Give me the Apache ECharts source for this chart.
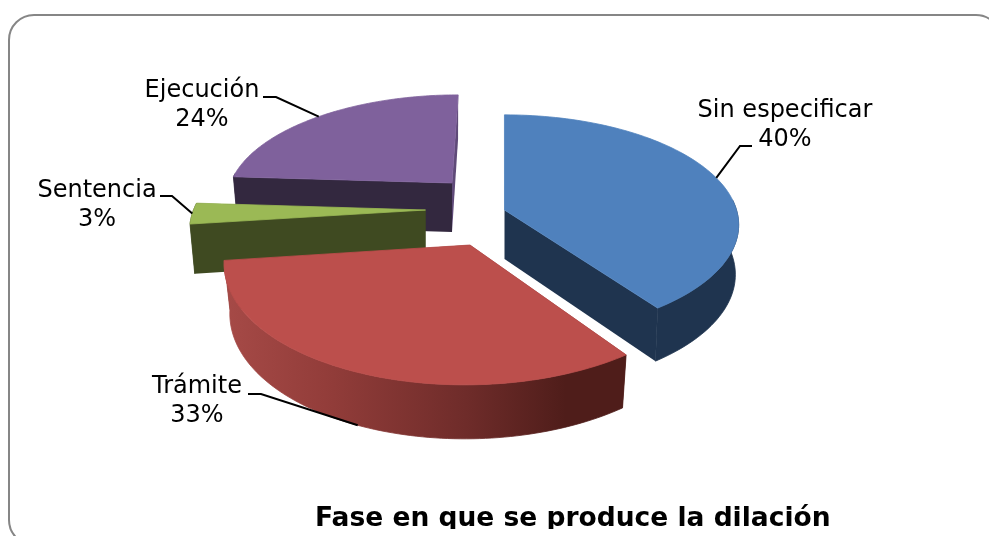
<!DOCTYPE html>
<html>
<head>
<meta charset="utf-8">
<style>html,body{margin:0;padding:0;background:#fff}#c{width:989px;height:536px}</style>
<script src="https://cdn.jsdelivr.net/npm/echarts@6/dist/echarts.min.js"></script>
</head>
<body>
<div id="c"></div>
<script>
// ---- data ----
const categories = ['Sin especificar', 'Trámite', 'Sentencia', 'Ejecución'];
const percents = [40, 33, 3, 24];
const chartTitle = 'Fase en que se produce la dilación';

// ---- style and layout of the exploded 3D pie ----
const R = 232, persp = 0.135, depth = 108, eyeX = 504;
const wallH = 49, wallHFront = 5;
const wallShrink = [0.986, 0.977, 0.98, 0.98];
const explode = [[504.5, 210], [470, 245], [425.5, 210], [452, 183]];
const stretchX = [1, 1.047, 1, 0.954];
const stretchY = [1, 1.12, 1.02, 0.926];
const paintOrder = [4, 3, 2, 1];
const topColor = ['#4f81bd', '#bc4f4c', '#9bb955', '#7f619c'];
const sideColor = ['#1f344f', '#4f1d1a', '#3f4a21', '#33283f'];
const endColor = ['#1f344f', '#4f1d1a', '#3f4a21', '#5f4a78'];
const outerStops = [
  [[0, '#1f344f'], [1, '#1f344f']],
  [[0, '#a64a47'], [0.25, '#933d3a'], [0.6, '#6f2c2a'], [0.85, '#4f1d1a'], [1, '#4f1d1a']],
  [[0, '#3f4a21'], [1, '#3f4a21']],
  [[0, '#33283f'], [1, '#33283f']]
];
const labelAt = [[785, 125], [197, 401.5], [97, 205], [202, 105]];
const knee = [[[752, 146], [740, 146]], [[248, 394], [261, 394]], [[160, 196], [172, 196]], [[263, 97], [276, 97]]];
const leaderOnRim = [false, true, false, false];

const total = percents.reduce((a, b) => a + b, 0);
function project(i, theta) {
  const u = Math.sin(theta), v = -Math.cos(theta);
  const den = 1 - persp * v, a = explode[i];
  const x = a[0] + R * u / den * stretchX[i] + (a[0] - eyeX) * (1 / den - 1);
  const y = a[1] + depth * v / den * stretchY[i];
  return [x, y, v];
}
function rim(i, p) {
  const a = explode[i];
  return [a[0] + (p[0] - a[0]) * wallShrink[i], p[1] + wallH + wallHFront * p[2]];
}

function renderItem(params, api) {
  const i = params.dataIndex, value = api.value(0);
  let before = 0;
  for (let k = 0; k < i; k++) before += percents[k];
  const t0 = before / total * 2 * Math.PI, t1 = (before + value) / total * 2 * Math.PI;
  const a = explode[i], z = paintOrder[i];
  const arc = [];
  const n = 90;
  for (let s = 0; s <= n; s++) arc.push(project(i, t0 + (t1 - t0) * s / n));
  const bottom = arc.map(p => rim(i, p));
  const apexBottom = [a[0], a[1] + wallH];
  const pts = p => [p[0], p[1]];
  const poly = (points, fill, zz, edge) => ({
    type: 'polygon', z2: zz, shape: { points },
    style: edge ? { fill, stroke: fill, lineWidth: 0.8 } : { fill }
  });
  const children = [];
  // radial walls
  children.push(poly([pts(a), pts(arc[n]), bottom[n], apexBottom], endColor[i], z * 10));
  children.push(poly([pts(a), pts(arc[0]), bottom[0], apexBottom], sideColor[i], z * 10 + 1));
  // outer wall: only the part turned toward the viewer
  const facing = arc.map((p, k) => k).filter(k => arc[k][2] >= -0.1);
  if (facing.length > 1) {
    const wall = facing.map(k => pts(arc[k])).concat(facing.slice().reverse().map(k => bottom[k]));
    const xs = wall.map(p => p[0]);
    children.push(poly(wall, {
      type: 'linear', global: true,
      x: Math.min.apply(null, xs), y: 0, x2: Math.max.apply(null, xs), y2: 0,
      colorStops: outerStops[i].map(s => ({ offset: s[0], color: s[1] }))
    }, z * 10 + 2, true));
  }
  // top face
  children.push(poly([pts(a)].concat(arc.map(pts)), topColor[i], z * 10 + 3, true));
  // leader and label
  const mid = project(i, (t0 + t1) / 2);
  const end = leaderOnRim[i] ? rim(i, mid) : pts(mid);
  children.push({
    type: 'polyline', z2: 100, shape: { points: knee[i].concat([end]) },
    style: { fill: null, stroke: '#000', lineWidth: 2 }
  });
  children.push({
    type: 'text', z2: 101,
    style: {
      x: labelAt[i][0], y: labelAt[i][1], text: categories[i] + '\n' + value + '%',
      fill: '#000', align: 'center', verticalAlign: 'middle',
      fontFamily: 'DejaVu Sans', fontSize: 24, lineHeight: 29
    }
  });
  return { type: 'group', children };
}

const chart = echarts.init(document.getElementById('c'));
chart.setOption({
  animation: false,
  backgroundColor: '#fff',
  title: {
    text: chartTitle, left: 310, top: 501, z: 5,
    textStyle: { fontFamily: 'DejaVu Sans', fontWeight: 'bold', fontSize: 26.5, color: '#000' }
  },
  graphic: [
    { type: 'rect', z: 1, silent: true, shape: { x: 9, y: 15, width: 992, height: 530, r: 25 },
      style: { fill: '#fff', stroke: '#868686', lineWidth: 2 } },
    { type: 'rect', z: 50, silent: true, shape: { x: 300, y: 529, width: 560, height: 7 },
      style: { fill: '#fff' } }
  ],
  series: [{
    type: 'custom', coordinateSystem: 'none', z: 3,
    renderItem,
    data: categories.map((name, i) => ({ name, value: [percents[i]] }))
  }]
});
</script>
</body>
</html>
